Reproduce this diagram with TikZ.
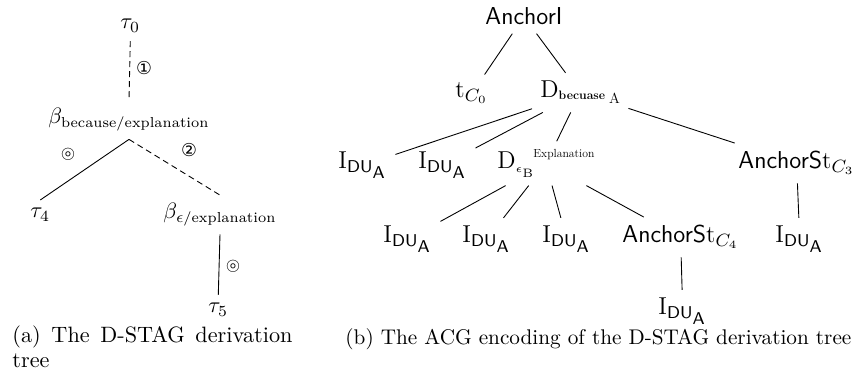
\documentclass[tikz,border=0pt]{standalone}
\usepackage{amsmath,amssymb,graphicx}
\usepackage{fontspec}
\newfontfamily\dejavu{DejaVu Sans}
\begin{document}
\begin{tikzpicture}[x=0.45pt,y=-0.45pt,
  tn/.style={inner sep=3.6pt, xshift=-3.6pt, font=\fontsize{11}{13}\selectfont, anchor=base west},
  ln/.style={tn, font=\fontsize{10}{12}\selectfont},
  circ/.style={inner sep=0, font=\dejavu\fontsize{8}{9}\selectfont},
  dotlbl/.style={inner sep=0, font=\fontsize{7.5}{8}\selectfont},
  dsh/.style={dash pattern=on 2.7pt off 1.8pt},
  captext/.style={inner sep=0, anchor=base west, font=\fontsize{10}{12}\selectfont}]
\useasboundingbox (0,0) rectangle (854,378);
% ---- (a) D-STAG derivation tree
\node[ln] (t0) at (120,29) {$\tau_{\text{\oldstylenums{0}}}$};
\node[ln] (b1) at (48,124) {$\beta_{\text{\fontsize{6.5}{7}\selectfont because/explanation}}$};
\node[ln] (t4) at (30,218) {$\tau_{\text{\oldstylenums{4}}}$};
\node[ln] (b2) at (163,219) {$\beta_{\epsilon\text{\fontsize{6.5}{7}\selectfont /explanation}}$};
\node[ln] (t5) at (208,313) {$\tau_{\text{\oldstylenums{5}}}$};
\draw[dsh] (t0.south) -- (b1.north);
\draw (b1.south) -- (t4.north);
\draw[dsh] (b1.south) -- (b2.north);
\draw (b2.south) -- (t5.north);
\node[circ] (c1) at (144,68) {①};
\node[circ] (c2) at (189,150) {②};
\node[dotlbl] (c3) at (68,154) {$\circledcirc$};
\node[dotlbl] (c4) at (233,266) {$\circledcirc$};
\node[captext] (capa1) at (12,343) {\makebox[126pt][s]{(a) The D-STAG derivation}};
\node[captext] (capa2) at (12,368) {tree};
% ---- (b) ACG encoding
\node[tn] (anc) at (485,25) {\textsf{AnchorI}};
\node[tn] (tc0) at (455,98) {$\mathrm{t}_{C_0}$};
\node[tn] (dbec) at (540,98) {D\raisebox{-0.8pt}{\scalebox{0.5}{\bfseries becuase}}\,\raisebox{-2.7pt}{\scalebox{0.6}{A}}};
\node[tn] (i1) at (338,169) {$\mathrm{I}_{\mathsf{DU}_{\scriptstyle\mathsf{A}}}$};
\node[tn] (i2) at (418,169) {$\mathrm{I}_{\mathsf{DU}_{\scriptstyle\mathsf{A}}}$};
\node[tn] (deb) at (497,169) {$\mathrm{D}_{\scriptscriptstyle\epsilon_{\mathrm{B}}}$\hspace{-0.8pt}\raisebox{5pt}{\scalebox{0.48}{Explanation}}};
\node[tn] (as3) at (738,169) {\textsf{AnchorS}$\mathrm{t}_{C_3}$};
\node[tn] (i3) at (383,243) {$\mathrm{I}_{\mathsf{DU}_{\scriptstyle\mathsf{A}}}$};
\node[tn] (i4) at (462,243) {$\mathrm{I}_{\mathsf{DU}_{\scriptstyle\mathsf{A}}}$};
\node[tn] (i5) at (542,243) {$\mathrm{I}_{\mathsf{DU}_{\scriptstyle\mathsf{A}}}$};
\node[tn] (as4) at (622,243) {\textsf{AnchorS}$\mathrm{t}_{C_4}$};
\node[tn] (i6) at (775,243) {$\mathrm{I}_{\mathsf{DU}_{\scriptstyle\mathsf{A}}}$};
\node[tn] (i7) at (658,315) {$\mathrm{I}_{\mathsf{DU}_{\scriptstyle\mathsf{A}}}$};
\draw (anc) -- (tc0);
\draw (anc) -- (dbec);
\draw (dbec) -- (i1);
\draw (dbec) -- (i2);
\draw (dbec) -- (deb);
\draw (dbec) -- (as3);
\draw (deb) -- (i3);
\draw (deb) -- (i4);
\draw (deb) -- (i5);
\draw (deb) -- (as4);
\draw (as3) -- (i6);
\draw (as4) -- (i7);
\node[captext, font=\fontsize{9.55}{12}\selectfont] (capb) at (345,344) {(b) The ACG encoding of the D-STAG derivation tree};
\end{tikzpicture}
\end{document}
